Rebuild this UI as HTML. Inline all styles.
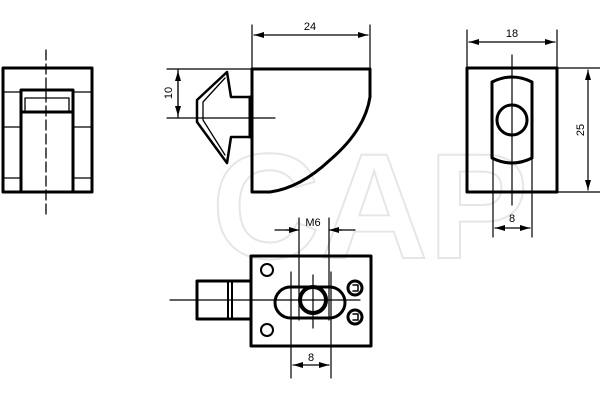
<!DOCTYPE html>
<html><head><style>body{margin:0;background:#fff}svg{display:block}</style></head><body>
<svg width="600" height="400" viewBox="0 0 600 400" xmlns="http://www.w3.org/2000/svg">
<defs>
<marker id="a" viewBox="0 0 10 6" refX="10" refY="3" markerWidth="10" markerHeight="6" orient="auto-start-reverse" markerUnits="userSpaceOnUse"><path d="M0,0L10,3L0,6z" fill="#000"/></marker>
</defs>
<text x="370" y="258" font-family="Liberation Sans,sans-serif" font-size="150" font-weight="bold" fill="none" stroke="#e6e6e6" stroke-width="2" text-anchor="middle">CAP</text>
<g fill="none" stroke="#000" stroke-linecap="round" stroke-linejoin="round">
<!-- left view -->
<g stroke-width="3">
<rect x="3" y="68" width="89" height="124"/>
<path d="M21,192V90H73V192"/>
<path d="M21,112H73"/>
</g>
<g stroke-width="1.3">
<path d="M3,92H21M73,92H92M3,127H21M73,127H92M3,178H21M73,178H92"/>
<path d="M25,112V98H69V112"/>
</g>
<path d="M46,50V215" stroke-width="1.3" stroke-dasharray="10,4"/>
<!-- side view -->
<path d="M252,69H370V97Q365,130 330,160Q300,188 270,192H252Z" stroke-width="3"/>
<path d="M227,72L197,100V122L227,163L231,137H250V97H231Z" stroke-width="2.5"/>
<path d="M225,78L203,102V120L225,155" stroke-width="1.3"/>
<path d="M250,97V137" stroke-width="3"/>
<g stroke-width="1.2">
<path d="M252,25V69M370,25V69M167,69H252M167,118H275M178,69V118"/>
<path d="M254,35H368" marker-start="url(#a)" marker-end="url(#a)"/>
<path d="M178,71V116" marker-start="url(#a)" marker-end="url(#a)"/>
</g>
<!-- right view -->
<rect x="467" y="68" width="90" height="124" stroke-width="3"/>
<path d="M492,82Q512,72 532,82V158Q512,168 492,158Z" stroke-width="3"/>
<circle cx="512" cy="120" r="15" stroke-width="3"/>
<g stroke-width="1.2">
<path d="M467,30V68M557,30V68M557,68H600M557,192H600M493,120V237M532,120V237M512,55V205"/>
<path d="M469,42H555" marker-start="url(#a)" marker-end="url(#a)"/>
<path d="M588,70V190" marker-start="url(#a)" marker-end="url(#a)"/>
<path d="M495,228H530" marker-start="url(#a)" marker-end="url(#a)"/>
</g>
<!-- bottom view -->
<rect x="251" y="256" width="120" height="90" stroke-width="3"/>
<path d="M251,281H197V319H251" stroke-width="3"/>
<path d="M228,281V319M232,281V319" stroke-width="2"/>
<rect x="275" y="287" width="70" height="31" rx="15.5" stroke-width="3"/>
<circle cx="313" cy="300" r="13" stroke-width="4"/>
<circle cx="267" cy="270" r="6" stroke-width="2"/>
<circle cx="267" cy="330" r="6" stroke-width="2"/>
<circle cx="355" cy="288" r="7" stroke-width="3"/>
<circle cx="355" cy="317" r="7" stroke-width="3"/>
<path d="M353,285H358V291H353M353,314H358V320H353" stroke-width="1.5"/>
<g stroke-width="1.2">
<path d="M170,300H360M313,275V328M299,218V320M329,218V320M291,272V378M331,272V378"/>
<path d="M275,230H297M331,230H355" />
<path d="M286,230H299" marker-end="url(#a)"/>
<path d="M342,230H329" marker-end="url(#a)"/>
<path d="M293,365H329" marker-start="url(#a)" marker-end="url(#a)"/>
</g>
</g>
<g font-family="Liberation Sans,sans-serif" font-size="11" text-anchor="middle" fill="#000">
<text x="310" y="30">24</text>
<text x="512" y="37">18</text>
<text x="512" y="222">8</text>
<text x="313" y="226">M6</text>
<text x="311" y="361">8</text>
<text transform="translate(172,93) rotate(-90)">10</text>
<text transform="translate(584,130) rotate(-90)">25</text>
</g>
</svg>
</body></html>
